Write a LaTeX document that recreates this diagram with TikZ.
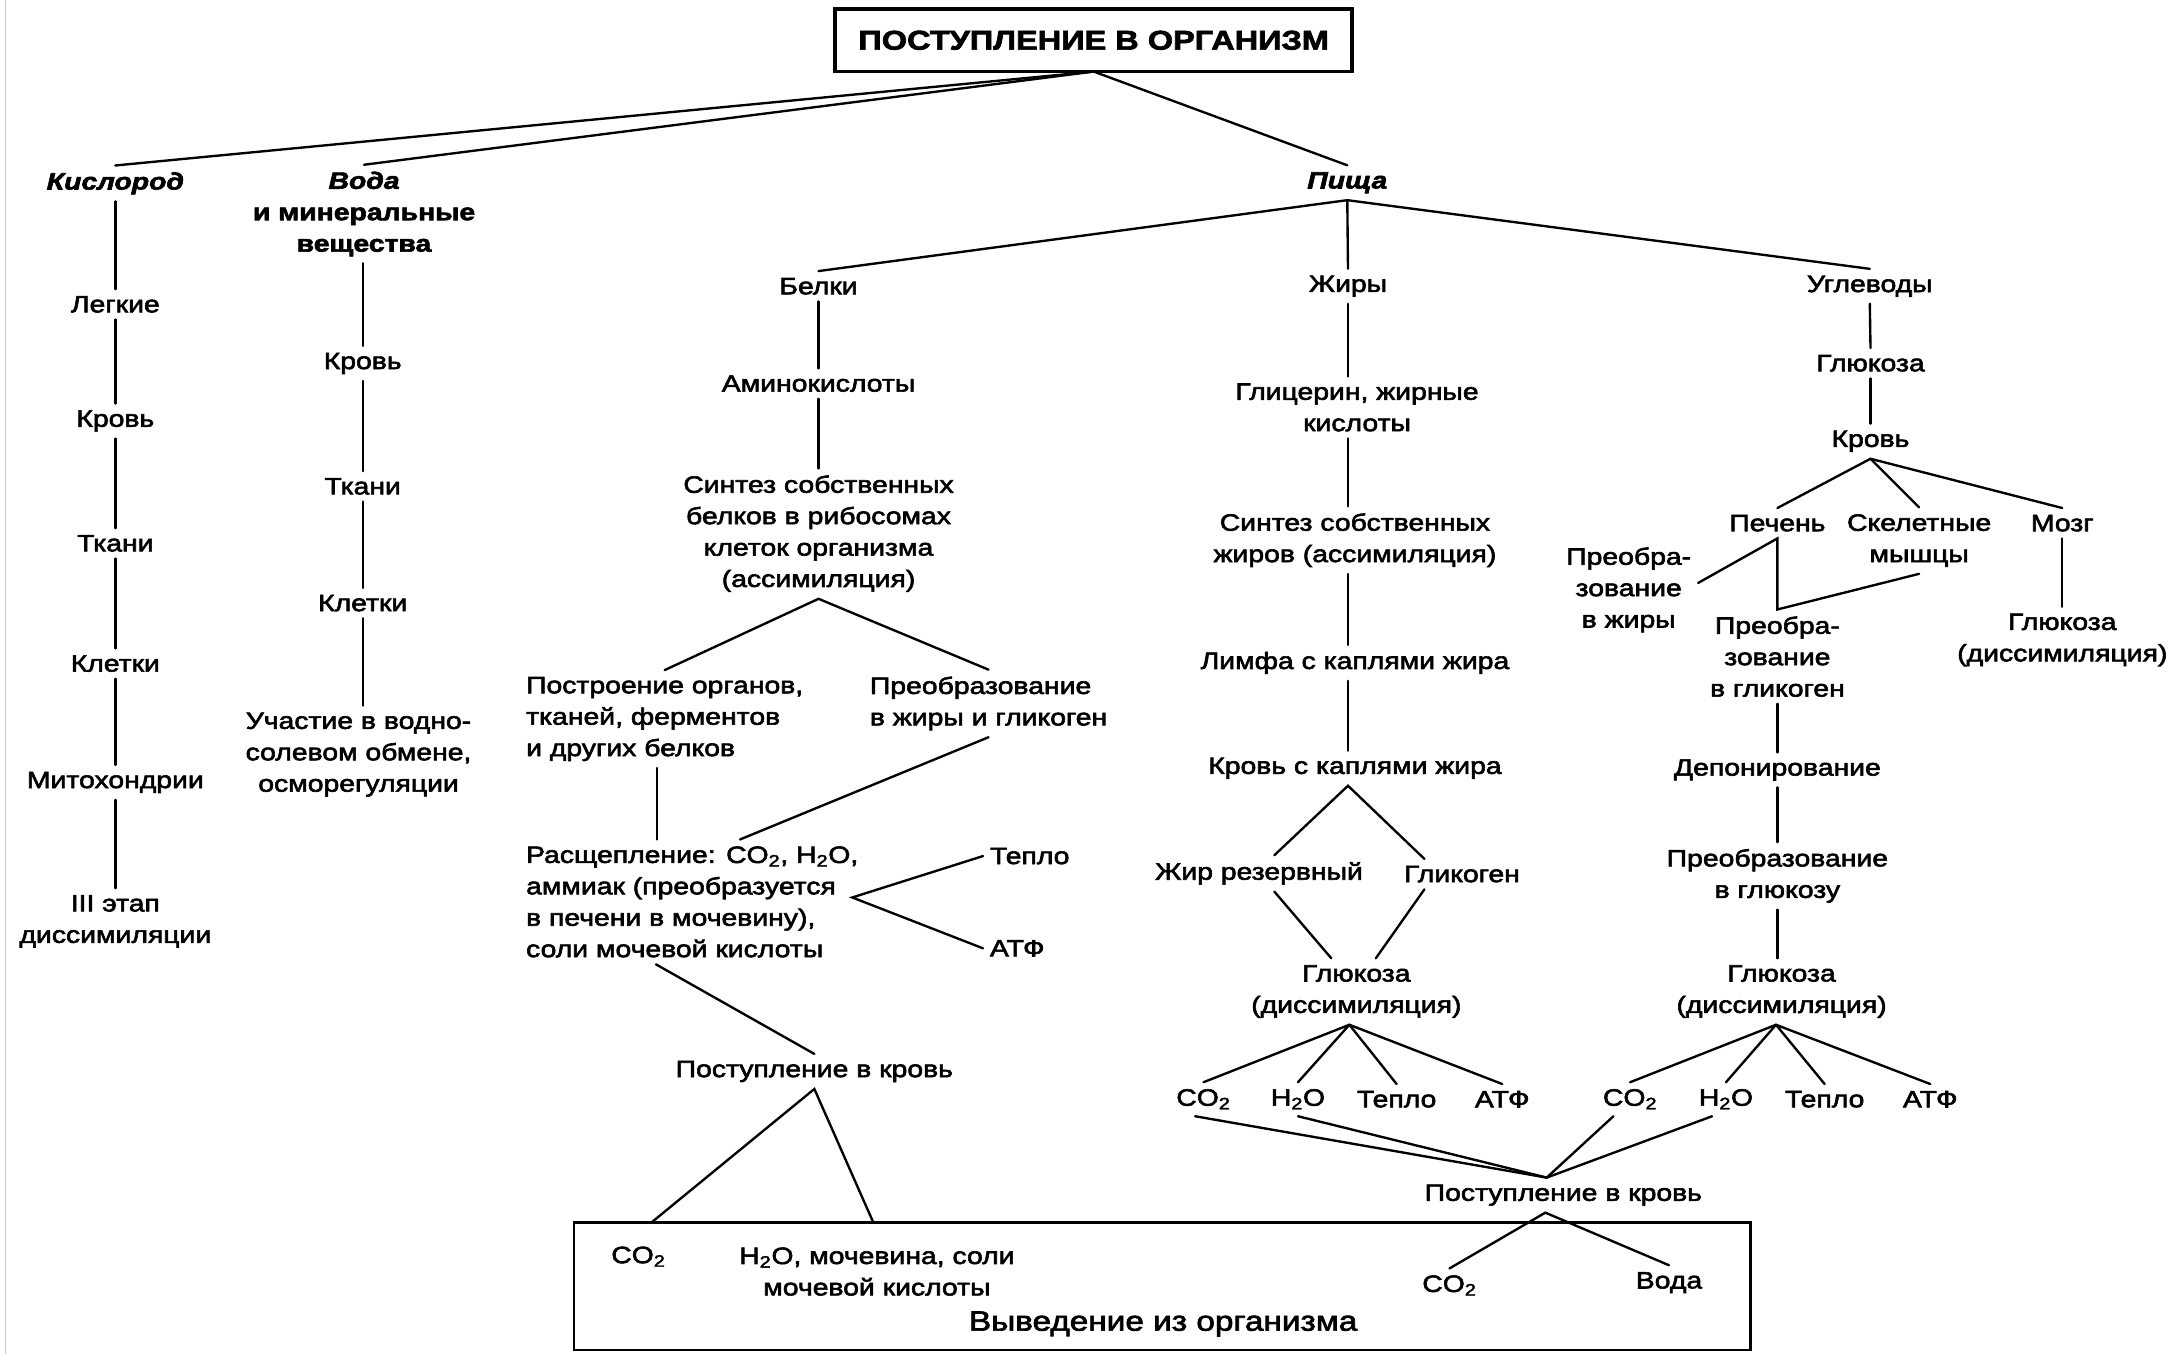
\documentclass[tikz,border=0pt]{standalone}
\usepackage{fontspec}
\setmainfont{Liberation Sans}[FakeStretch=1.2, FakeBold=2.5]
\usetikzlibrary{calc}
\begin{document}
\begin{tikzpicture}[x=1pt,y=-1pt,
  lbl/.style={inner sep=5pt, outer sep=0pt, align=center, font=\fontsize{17}{22.6}\selectfont},
  lbll/.style={lbl, align=left, anchor=west},
  conn/.style={line width=1.7pt, line cap=round},
  topbox/.style={draw, line width=2.6pt, minimum width=372pt, minimum height=45pt, inner sep=0pt, outer sep=0pt, font=\fontsize{19.5}{22}\selectfont\bfseries},
  exbox/.style={draw, line width=2pt, minimum width=846.7pt, minimum height=91.5pt, inner sep=0pt, outer sep=0pt},
]
\useasboundingbox (0,0) rectangle (1568,974);
\draw[gray!45, line width=1pt] (4,0) -- (4,974);

% top
\node[topbox] (top) at (787,29) {ПОСТУПЛЕНИЕ В ОРГАНИЗМ};

% column 1
\node[lbl] (k0) at (83,132) {\textbf{\textit{Кислород}}};
\node[lbl] (k1) at (83,219) {Легкие};
\node[lbl] (k2) at (83,303) {Кровь};
\node[lbl] (k3) at (83,391) {Ткани};
\node[lbl] (k4) at (83,477.5) {Клетки};
\node[lbl] (k5) at (83,563) {Митохондрии};
\node[lbl] (k6) at (83,663) {III этап\\диссимиляции};
\foreach \a/\b in {k0/k1,k1/k2,k2/k3,k3/k4,k4/k5,k5/k6} \draw[conn] (\a.south) -- (\b.north);

% column 2
\node[lbl] (w0) at (262,154) {\textbf{\textit{Вода}}\\\textbf{и минеральные}\\\textbf{вещества}};
\node[lbl] (w1) at (261,261.5) {Кровь};
\node[lbl] (w2) at (261,350) {Ткани};
\node[lbl] (w3) at (261,434) {Клетки};
\node[lbl] (w4) at (258,543) {Участие в водно-\\солевом обмене,\\осморегуляции};
\draw[conn] (w0.south -| w1.south) -- (w1.north);
\draw[conn] (w1.south) -- (w2.north);
\draw[conn] (w2.south) -- (w3.north);
\draw[conn] (w3.south) -- (w3.south |- w4.north);

% food
\node[lbl] (p) at (969.5,131.5) {\textbf{\textit{Пища}}};
\draw[conn] (top.south) -- (k0.north);
\draw[conn] (top.south) -- (w0.north);
\draw[conn] (top.south) -- (p.north);

% proteins
\node[lbl] (b0) at (589,206) {Белки};
\node[lbl] (b1) at (589,276) {Аминокислоты};
\node[lbl] (b2) at (589,384) {Синтез собственных\\белков в рибосомах\\клеток организма\\(ассимиляция)};
\node[lbll] (b3) at (373.6,517.4) {Построение органов,\\тканей, ферментов\\и других белков};
\node[lbll] (b4) at (621,506.2) {Преобразование\\в жиры и гликоген};
\node[lbll] (b5) at (373.6,649) {Расщепление: CO\textsubscript{2}, H\textsubscript{2}O,\\аммиак (преобразуется\\в печени в мочевину),\\соли мочевой кислоты};
\node[lbl] (b6) at (741,616) {Тепло};
\node[lbl] (b7) at (732,682.4) {АТФ};
\node[lbl] (b8) at (586,771) {Поступление в кровь};
\draw[conn] (p.south) -- (b0.north);
\draw[conn] (b0.south) -- (b1.north);
\draw[conn] (b1.south) -- (b2.north);
\draw[conn] (b2.south) -- (b3.north);
\draw[conn] (b2.south) -- (b4.north);
\draw[conn] ($(b3.south west)+(99.2,0)$) -- ($(b5.north west)+(99.2,0)$);
\draw[conn] (b4.south) -- ($(b5.north west)+(158.9,0)$);
\coordinate (b5r) at ($(b5.west)+(239.7,-3.2)$);
\draw[conn] (b6.west) -- (b5r) -- (b7.west);
\draw[conn] ($(b5.south west)+(98.4,0)$) -- (b8.north);

% excretion box
\node[exbox] (ex) at (836.4,925.7) {};
\draw[conn] ($(ex.north west)+(55.4,0)$) -- (b8.south) -- ($(ex.north west)+(215.5,0)$);
\node[lbl] (e1) at (459.4,904.3) {CO\textsubscript{2}};
\node[lbl] (e2) at (631,915) {H\textsubscript{2}O, мочевина, соли\\мочевой кислоты};
\node[lbl] (e3) at (1043,925) {CO\textsubscript{2}};
\node[lbl] (e4) at (1201,923) {Вода};
\node[lbl, font=\fontsize{20}{24}\selectfont] (e5) at (837,952.7) {Выведение из организма};

% fats
\node[lbl] (z0) at (970,206) {Жиры};
\node[lbl] (z1) at (976.5,293.2) {Глицерин, жирные\\кислоты};
\node[lbl] (z2) at (975,388.7) {Синтез собственных\\жиров (ассимиляция)};
\node[lbl] (z3) at (975,477) {Лимфа с каплями жира};
\node[lbl] (z4) at (975,552.8) {Кровь с каплями жира};
\node[lbl] (z5) at (906,628.5) {Жир резервный};
\node[lbl] (z6) at (1052,629) {Гликоген};
\node[lbl] (z7) at (976,713.5) {Глюкоза\\(диссимиляция)};
\node[lbl] (z8) at (866,791) {CO\textsubscript{2}};
\node[lbl] (z9) at (934,791) {H\textsubscript{2}O};
\node[lbl] (z10) at (1005,791) {Тепло};
\node[lbl] (z11) at (1081,791) {АТФ};
\draw[conn] (p.south) -- (z0.north);
\draw[conn] (z0.south) -- (z0.south |- z1.north);
\draw[conn] (z0.south |- z1.south) -- (z0.south |- z2.north);
\draw[conn] (z0.south |- z2.south) -- (z0.south |- z3.north);
\draw[conn] (z0.south |- z3.south) -- (z0.south |- z4.north);
\coordinate (z4a) at (z0.south |- z4.south);
\draw[conn] ([xshift=11pt]z5.north) -- (z4a) -- ([xshift=-27pt]z6.north);
\draw[conn] ([xshift=11pt]z5.south) -- ([xshift=-18pt]z7.north);
\draw[conn] ([xshift=-27pt]z6.south) -- ([xshift=14pt]z7.north);
\coordinate (z7a) at ([xshift=-5pt]z7.south);
\foreach \n in {z8,z9,z10,z11} \draw[conn] (z7a) -- (\n.north);

% carbohydrates
\node[lbl] (u0) at (1345.5,206) {Углеводы};
\node[lbl] (u1) at (1346,261.4) {Глюкоза};
\node[lbl] (u2) at (1346,317.5) {Кровь};
\node[lbl] (u3) at (1279,376.5) {Печень};
\node[lbl] (u4) at (1381,389) {Скелетные\\мышцы};
\node[lbl] (u5) at (1484,376.5) {Мозг};
\node[lbl] (u6) at (1172,424.5) {Преобра-\\зование\\в жиры};
\node[lbl] (u7) at (1279,472.5) {Преобра-\\зование\\в гликоген};
\node[lbl] (u8) at (1484,460.5) {Глюкоза\\(диссимиляция)};
\node[lbl] (u9) at (1279,554) {Депонирование};
\node[lbl] (u10) at (1279,630.3) {Преобразование\\в глюкозу};
\node[lbl] (u11) at (1282,713.5) {Глюкоза\\(диссимиляция)};
\node[lbl] (u12) at (1173,791) {CO\textsubscript{2}};
\node[lbl] (u13) at (1242,791) {H\textsubscript{2}O};
\node[lbl] (u14) at (1313,791) {Тепло};
\node[lbl] (u15) at (1389,791) {АТФ};
\draw[conn] (p.south) -- (u0.north);
\draw[conn] (u0.south) -- (u1.north);
\draw[conn] (u1.south) -- (u2.north);
\foreach \n in {u3,u4,u5} \draw[conn] (u2.south) -- (\n.north);
\draw[conn] ([yshift=5pt]u6.east) -- (u3.south) -- (u7.north) -- (u4.south);
\draw[conn] (u5.south) -- (u8.north);
\draw[conn] (u7.south) -- (u9.north);
\draw[conn] (u9.south) -- (u10.north);
\draw[conn] (u10.south) -- (u10.south |- u11.north);
\coordinate (u11a) at ([xshift=-4pt]u11.south);
\foreach \n in {u12,u13,u14,u15} \draw[conn] (u11a) -- (\n.north);

% blood intake 2
\node[lbl] (q) at (1125,860) {Поступление в кровь};
\coordinate (qa) at ([xshift=-12pt]q.north);
\draw[conn] ([xshift=-6pt]z8.south) -- (qa);
\draw[conn] (z9.south) -- (qa);
\draw[conn] ([xshift=-12pt]u12.south) -- (qa);
\draw[conn] ([xshift=-10pt]u13.south) -- (qa);
\coordinate (qb) at ([xshift=-13pt]q.south);
\draw[conn] (e3.north) -- (qb) -- (e4.north);
\end{tikzpicture}
\end{document}
